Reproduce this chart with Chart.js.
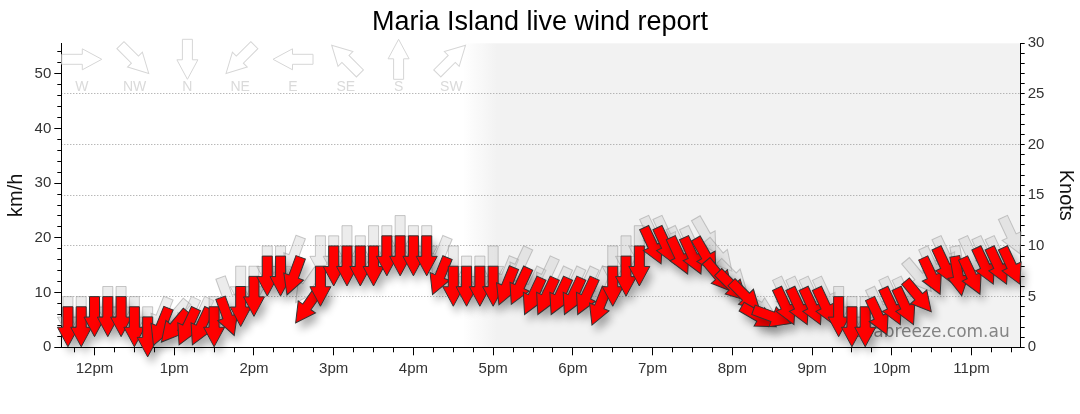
<!DOCTYPE html>
<html>
<head>
<meta charset="utf-8">
<script src="https://cdn.jsdelivr.net/npm/chart.js@4.4.1/dist/chart.umd.min.js"></script>
<style>
  html, body { margin: 0; padding: 0; background: #ffffff; }
  #wrap { width: 1080px; height: 414px; }
</style>
</head>
<body>
<div id="wrap"><canvas id="c" width="1080" height="414"></canvas></div>
<script>
// ---------------- data ----------------
const TITLE = 'Maria Island live wind report';

const TIMES = [
  '11:40','11:50',
  '12:00','12:10','12:20','12:30','12:40','12:50',
  '13:00','13:10','13:20','13:30','13:40','13:50',
  '14:00','14:10','14:20','14:30','14:40','14:50',
  '15:00','15:10','15:20','15:30','15:40','15:50',
  '16:00','16:10','16:20','16:30','16:40','16:50',
  '17:00','17:10','17:20','17:30','17:40','17:50',
  '18:00','18:10','18:20','18:30','18:40','18:50',
  '19:00','19:10','19:20','19:30','19:40','19:50',
  '20:00','20:10','20:20','20:30','20:40','20:50',
  '21:00','21:10','21:20','21:30','21:40','21:50',
  '22:00','22:10','22:20','22:30','22:40','22:50',
  '23:00','23:10','23:20','23:30'
];

// wind speed (knots)
const SPEED_KT = [
  4,4,
  5,5,5,4,3,4,
  4,4,4,4,5,6,
  7,9,9,9,6,8,
  10,10,10,10,11,11,
  11,11,9,8,8,8,
  8,8,8,7,7,7,
  7,7,6,8,9,10,
  12,12,11,11,11,9,
  8,7,5,5,6,6,
  6,6,5,4,4,5,
  6,6,7,9,10,9,
  9,10,10,10
];

// gusts (knots)
const GUST_KT = [
  5,5,
  5,6,6,5,4,5,
  5,5,5,5,7,8,
  8,10,10,11,8,11,
  11,12,11,12,12,13,
  12,12,11,10,9,9,
  10,9,10,8,9,8,
  8,8,8,10,11,12,
  13,13,12,12,13,11,
  9,7,6,5,7,7,
  7,7,6,5,5,6,
  7,7,9,10,11,10,
  11,11,11,13
];

// wind direction (degrees, direction wind comes from)
const DIR_DEG = [
  0,0,
  0,0,0,0,0,22,
  40,25,25,0,340,0,
  0,0,0,20,35,0,
  0,0,0,0,0,0,
  0,0,22,0,0,0,
  0,22,25,25,25,25,
  25,25,22,0,0,0,
  335,335,335,335,330,320,
  315,315,300,290,335,335,
  335,335,0,0,0,335,
  335,335,320,335,335,350,
  335,335,335,335
];

const HOUR_TICKS  = ['12:00','13:00','14:00','15:00','16:00','17:00','18:00','19:00','20:00','21:00','22:00','23:00'];
const HOUR_LABELS = ['12pm','1pm','2pm','3pm','4pm','5pm','6pm','7pm','8pm','9pm','10pm','11pm'];
const KMH_TICKS   = [0,10,20,30,40,50];
const KNOT_LABEL_STEP = 5;
const KNOT_MAX = 30;
const KMH_PER_KNOT = 1.852;
const X_MIN = '11:35';
const X_MAX = '23:37';
const SUNSET = '16:50';

const COMPASS_LABELS = ['W','NW','N','NE','E','SE','S','SW'];
const COMPASS_DEG    = [270,315,0,45,90,135,180,225];
const WATERMARK = 'seabreeze.com.au';

// ---------------- helpers ----------------
const toMin = t => { const p = t.split(':'); return (+p[0]) * 60 + (+p[1]); };
const xMin = toMin(X_MIN), xMax = toMin(X_MAX);
const quarterTicks = [];
for (let m = Math.ceil(xMin / 15) * 15; m <= xMax; m += 15) quarterTicks.push({ value: m });
const kmhMinorTicks = [];
for (let v = 0; v <= KNOT_MAX * KMH_PER_KNOT; v += 2) kmhMinorTicks.push({ value: v });
const knotTicks = [];
for (let v = 0; v <= KNOT_MAX; v += 1) knotTicks.push({ value: v });

const ARROW_HALF = 20;
function arrowPath(ctx) {
  ctx.beginPath();
  ctx.moveTo(-5, -20);
  ctx.lineTo(5, -20);
  ctx.lineTo(5, 0.5);
  ctx.lineTo(10.5, 0.5);
  ctx.lineTo(0, 20);
  ctx.lineTo(-10.5, 0.5);
  ctx.lineTo(-5, 0.5);
  ctx.closePath();
}

Chart.defaults.font.family = "'Liberation Sans', Arial, sans-serif";

const shadePlugin = {
  id: 'nightShade',
  beforeDraw(chart) {
    const { ctx, chartArea: a, scales } = chart;
    const s = toMin(SUNSET);
    const x0 = scales.x.getPixelForValue(s - 12);
    const x1 = scales.x.getPixelForValue(s + 12);
    const g = ctx.createLinearGradient(x0, 0, x1, 0);
    g.addColorStop(0, 'rgba(242,242,242,0)');
    g.addColorStop(1, 'rgba(242,242,242,1)');
    ctx.save();
    ctx.fillStyle = g;
    ctx.fillRect(x0, a.top, a.right - x0, a.bottom - a.top);
    ctx.restore();
  }
};

const compassPlugin = {
  id: 'compassKey',
  beforeDatasetsDraw(chart) {
    const { ctx, chartArea: a } = chart;
    ctx.save();
    COMPASS_LABELS.forEach((lab, k) => {
      const cx = a.left + 20.5 + k * 52.8, cy = a.top + 16;
      ctx.save();
      ctx.translate(cx, cy);
      ctx.rotate(COMPASS_DEG[k] * Math.PI / 180);
      arrowPath(ctx);
      ctx.lineWidth = 1;
      ctx.strokeStyle = '#d6d6d6';
      ctx.stroke();
      ctx.restore();
      ctx.fillStyle = '#dadada';
      ctx.font = "14px 'Liberation Sans', Arial, sans-serif";
      ctx.textAlign = 'center';
      ctx.textBaseline = 'middle';
      ctx.fillText(lab, cx, a.top + 44);
    });
    ctx.restore();
  }
};

const watermarkPlugin = {
  id: 'watermark',
  beforeDatasetsDraw(chart) {
    const { ctx, chartArea: a } = chart;
    ctx.save();
    ctx.font = "17px 'DejaVu Sans', Verdana, sans-serif";
    ctx.fillStyle = '#858585';
    ctx.textAlign = 'right';
    ctx.textBaseline = 'alphabetic';
    ctx.fillText(WATERMARK, a.right - 11, a.bottom - 10);
    ctx.restore();
  }
};

const arrowsPlugin = {
  id: 'windArrows',
  afterDatasetsDraw(chart) {
    const ctx = chart.ctx;
    const drawSet = (dsIndex, fill, stroke, shadow) => {
      const meta = chart.getDatasetMeta(dsIndex);
      meta.data.forEach((pt, i) => {
        ctx.save();
        ctx.translate(pt.x, pt.y + ARROW_HALF);
        ctx.rotate(DIR_DEG[i] * Math.PI / 180);
        arrowPath(ctx);
        if (shadow) {
          ctx.shadowColor = 'rgba(0,0,0,0.33)';
          ctx.shadowBlur = 9;
          ctx.shadowOffsetX = 4;
          ctx.shadowOffsetY = 7;
        }
        ctx.fillStyle = fill;
        ctx.fill();
        ctx.shadowColor = 'rgba(0,0,0,0)';
        ctx.lineWidth = 1;
        ctx.strokeStyle = stroke;
        ctx.stroke();
        ctx.restore();
      });
    };
    drawSet(0, 'rgba(200,200,200,0.35)', 'rgba(150,150,150,0.5)', false);
    drawSet(1, '#ff0000', '#333333', true);
  }
};

new Chart(document.getElementById('c'), {
  type: 'scatter',
  data: {
    datasets: [
      {
        label: 'Gust (knots)',
        data: TIMES.map((t, i) => ({ x: toMin(t), y: GUST_KT[i] })),
        xAxisID: 'x', yAxisID: 'y2',
        pointRadius: 0, pointHoverRadius: 0, showLine: false
      },
      {
        label: 'Wind (knots)',
        data: TIMES.map((t, i) => ({ x: toMin(t), y: SPEED_KT[i] })),
        xAxisID: 'x', yAxisID: 'y2',
        pointRadius: 0, pointHoverRadius: 0, showLine: false
      }
    ]
  },
  options: {
    responsive: false,
    animation: false,
    events: [],
    layout: { padding: 0 },
    plugins: {
      legend: { display: false },
      tooltip: { enabled: false },
      title: {
        display: true,
        text: TITLE,
        color: '#000',
        font: { size: 27, weight: 'normal' },
        padding: { top: 6, bottom: 4.9 }
      }
    },
    scales: {
      x: {
        type: 'linear', position: 'bottom', min: xMin, max: xMax, bounds: 'data',
        afterBuildTicks: s => { s.ticks = HOUR_TICKS.map(t => ({ value: toMin(t) })); },
        ticks: { callback: (v, i) => HOUR_LABELS[i], font: { size: 15 }, color: '#333', padding: 5, maxRotation: 0, autoSkip: false },
        grid: { drawOnChartArea: false, tickLength: 8, tickColor: '#000' },
        border: { color: '#000', width: 1 },
        afterFit: s => { s.height = 66.7; }
      },
      xMinor: {
        type: 'linear', position: 'bottom', weight: -1, min: xMin, max: xMax, bounds: 'data',
        afterBuildTicks: s => { s.ticks = quarterTicks.slice(); },
        ticks: { display: false },
        grid: { drawOnChartArea: false, tickLength: 5, tickColor: '#000' },
        border: { display: false },
        afterFit: s => { s.height = 0; }
      },
      y: {
        type: 'linear', position: 'left', min: 0, max: KNOT_MAX * KMH_PER_KNOT, bounds: 'data',
        afterBuildTicks: s => { s.ticks = KMH_TICKS.map(v => ({ value: v })); },
        ticks: { font: { size: 15 }, color: '#333', padding: 3 },
        grid: { drawOnChartArea: false, tickLength: 7, tickColor: '#000' },
        border: { color: '#000', width: 1 },
        title: { display: true, text: 'km/h', color: '#111', font: { size: 20 }, padding: { top: 4, bottom: 0 } },
        afterFit: s => { s.width = 61.3; }
      },
      yMinor: {
        type: 'linear', position: 'left', weight: -1, min: 0, max: KNOT_MAX * KMH_PER_KNOT, bounds: 'data',
        afterBuildTicks: s => { s.ticks = kmhMinorTicks.slice(); },
        ticks: { display: false },
        grid: { drawOnChartArea: false, tickLength: 4, tickColor: '#000' },
        border: { display: false },
        afterFit: s => { s.width = 0; }
      },
      y2: {
        type: 'linear', position: 'right', min: 0, max: KNOT_MAX, bounds: 'data',
        afterBuildTicks: s => { s.ticks = knotTicks.slice(); },
        ticks: { callback: v => (v % KNOT_LABEL_STEP === 0 ? v : ''), font: { size: 15 }, color: '#333', padding: 3, autoSkip: false },
        grid: {
          drawOnChartArea: true,
          color: c => (c.tick && c.tick.value % KNOT_LABEL_STEP === 0 && c.tick.value > 0 && c.tick.value < KNOT_MAX) ? '#9a9a9a' : 'rgba(0,0,0,0)',
          tickLength: 4, tickColor: '#000'
        },
        border: { color: '#000', width: 1, dash: [1, 2] },
        title: { display: true, text: 'Knots', color: '#111', font: { size: 20 }, padding: { top: 2, bottom: 0 } },
        afterFit: s => { s.width = 59.3; }
      }
    }
  },
  plugins: [shadePlugin, compassPlugin, watermarkPlugin, arrowsPlugin]
});
</script>
</body>
</html>
